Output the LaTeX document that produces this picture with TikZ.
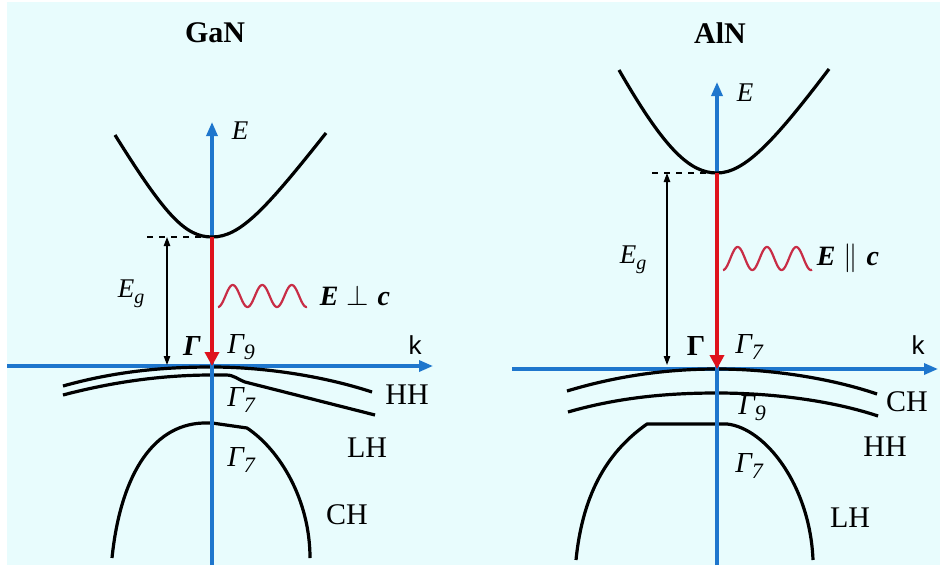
\documentclass[tikz,border=0pt]{standalone}
\usepackage{amsmath}
\usepackage{fontspec}
\setmainfont{Liberation Serif}
\setsansfont{Liberation Sans}
\usetikzlibrary{arrows.meta}
\definecolor{bgc}{RGB}{232,252,253}
\definecolor{axisblue}{RGB}{30,118,205}
\definecolor{arrred}{RGB}{222,18,28}
\definecolor{wavered}{RGB}{200,45,70}
\tikzset{
  band/.style={line width=1.6pt, black, line join=round},
  axisline/.style={axisblue, line width=1.6pt, -{Triangle[length=7pt,width=5.5pt]}},
  transarrow/.style={arrred, line width=2.4pt, -{Triangle[length=7pt,width=7pt]}},
  gaparrow/.style={black, line width=0.7pt, {Triangle[length=4.5pt,width=3.2pt]}-{Triangle[length=4.5pt,width=3.2pt]}},
  levelline/.style={black, line width=0.7pt, dashed},
  wave/.style={wavered, line width=1.1pt},
  title/.style={font=\fontsize{15}{18}\selectfont\bfseries},
  mathlbl/.style={font=\fontsize{13.5}{16}\selectfont\itshape},
  eglbl/.style={font=\fontsize{13.5}{16}\selectfont\itshape},
  pol/.style={font=\fontsize{14}{16}\selectfont},
  gam/.style={font=\fontsize{14.5}{17}\selectfont},
  klbl/.style={font=\fontsize{13}{15}\sffamily},
  blbl/.style={font=\fontsize{15}{18}\selectfont},
}
\newcommand{\gsub}[1]{\itshape Γ\raisebox{-0.45ex}{\fontsize{11}{11}\selectfont #1}}
\newcommand{\egap}{E\raisebox{-0.45ex}{\fontsize{10}{10}\selectfont g}}
\begin{document}
\begin{tikzpicture}[x=0.5pt,y=-0.5pt]
\useasboundingbox (0,0) rectangle (940,567);
\fill[bgc] (7,2) rectangle (940,565);

% ================= GaN =================
\coordinate (gKl) at (7,366);
\coordinate (gKr) at (433,366);
\coordinate (gEbot) at (212,565);
\coordinate (gEtop) at (212,122);
\coordinate (gCmin) at (212,237);
\coordinate (gVtop) at (212,366);
\coordinate (gDash) at (147,237);
\coordinate (gEgTop) at (167,237);
\coordinate (gEgBot) at (167,365);

\draw[axisline] (gKl) -- (gKr);
% HH
\draw[band] (63,386) .. controls (120,370) and (170,367) .. (212,367)
  .. controls (260,367) and (320,375) .. (372,392);
% LH
\draw[band] (63,395) .. controls (120,380) and (170,375) .. (212,375) -- (226,375)
  .. controls (234,375) and (237,379) .. (245,382) -- (375,415);
% CH
\draw[band] (112,558) .. controls (120,480) and (150,425) .. (203,423) -- (212,423)
  -- (247,428) .. controls (280,450) and (310,500) .. (310,558);
\draw[axisline] (gEbot) -- (gEtop);
% conduction band
\draw[band] (115,135) .. controls (165,215) and (185,237) .. (gCmin)
  .. controls (240,237) and (265,210) .. (326,133);
\draw[levelline] (gDash) -- (gCmin);
\draw[gaparrow] (gEgTop) -- (gEgBot);
\draw[transarrow] (gCmin) -- (gVtop);
\draw[wave] plot[domain=0:89, samples=150, smooth] ({218+\x}, {296 + 11*cos(\x/29.5*360)});

\node[title] (gTitle) at (215,33) {GaN};
\node[mathlbl] (gE) at (240,131) {E};
\node[eglbl] (gEg) at (131,294) {\egap};
\node[pol] (gPol) at (355,296) {\textbf{\textit{E}}\hspace{0.3em}$\perp$\hspace{0.3em}\textbf{\textit{c}}};
\node[gam] (gG) at (192,346) {\bfseries\itshape Γ};
\node[gam] (gG9) at (241,347) {\gsub{9}};
\node[klbl] (gk) at (415,345) {k};
\node[blbl] (gHH) at (407,395) {HH};
\node[blbl] (gLH) at (367,448) {LH};
\node[blbl] (gCH) at (347,515) {CH};
\node[gam] (gG7a) at (241,400) {\gsub{7}};
\node[gam] (gG7b) at (241,460) {\gsub{7}};

% ================= AlN =================
\coordinate (aKl) at (512,369);
\coordinate (aKr) at (938,369);
\coordinate (aEbot) at (717,565);
\coordinate (aEtop) at (717,82);
\coordinate (aCmin) at (717,173);
\coordinate (aVtop) at (717,369);
\coordinate (aDash) at (652,173);
\coordinate (aEgTop) at (667,173);
\coordinate (aEgBot) at (667,365);

\draw[axisline] (aKl) -- (aKr);
% CH (top)
\draw[band] (567,391) .. controls (620,375) and (670,369) .. (717,369)
  .. controls (770,369) and (830,378) .. (877,394);
% HH
\draw[band] (568,412) .. controls (620,397) and (670,393) .. (717,393)
  .. controls (770,393) and (830,400) .. (878,416);
% LH
\draw[band] (576,560) .. controls (583,490) and (610,450) .. (647,424) -- (727,424)
  .. controls (765,428) and (810,485) .. (813,560);
\draw[axisline] (aEbot) -- (aEtop);
% conduction band
\draw[band] (619,70) .. controls (665,150) and (690,173) .. (aCmin)
  .. controls (745,173) and (775,140) .. (829,69);
\draw[levelline] (aDash) -- (aCmin);
\draw[gaparrow] (aEgTop) -- (aEgBot);
\draw[transarrow] (aCmin) -- (aVtop);
\draw[wave] plot[domain=0:89, samples=150, smooth] ({723+\x}, {258.5 + 11.5*cos(\x/29.3*360)});

\node[title] (aTitle) at (720,33) {AlN};
\node[mathlbl] (aE) at (745,93) {E};
\node[eglbl] (aEg) at (633,260) {\egap};
\node[pol] (aPol) at (848,258) {\textbf{\textit{E}}\hspace{0.3em}$\parallel$\hspace{0.3em}\textbf{\textit{c}}};
\node[gam] (aG) at (696,346) {\bfseries Γ};
\node[gam] (aG7) at (749,347) {\gsub{7}};
\node[klbl] (ak) at (918,345) {k};
\node[blbl] (aCH) at (907,402) {CH};
\node[blbl] (aHH) at (885,447) {HH};
\node[blbl] (aLH) at (850,518) {LH};
\node[gam] (aG9) at (752,408) {\gsub{9}};
\node[gam] (aG7b) at (749,466) {\gsub{7}};
\end{tikzpicture}
\end{document}
